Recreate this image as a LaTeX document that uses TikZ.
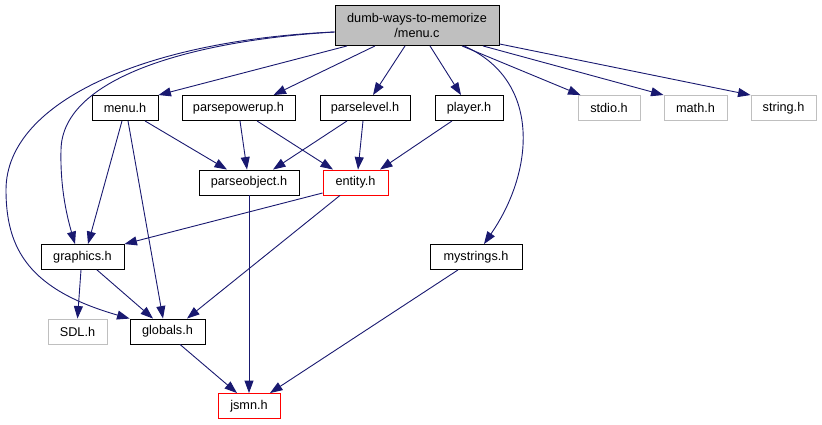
\documentclass[tikz,border=0pt]{standalone}
\usepackage{fontspec}
\setmainfont{Liberation Sans}
\usepackage{tikz}
\usetikzlibrary{arrows.meta, positioning}
\definecolor{edgeblue}{HTML}{191970}
\definecolor{boxgray}{HTML}{BFBFBF}
\colorlet{boxred}{red}

\begin{document}
\begin{tikzpicture}[x=1pt, y=-1pt, >={Triangle[length=12.5pt, width=9pt]},
    file/.style={draw=black, line width=0.9pt, fill=white, inner sep=0pt,
      minimum height=25pt, font=\fontsize{12.7}{15}\selectfont},
    sysfile/.style={file, draw=boxgray},
    badfile/.style={file, draw=boxred},
    dep/.style={->, draw=edgeblue, line width=0.9pt}]
    \useasboundingbox (0,0) rectangle (822,425);

    \node[file, fill=boxgray, align=center, minimum width=164pt, minimum height=40pt] (root) at (417,25.5) {dumb-ways-to-memorize\\/menu.c};
    \node[file, minimum width=66pt] (menu) at (125,108) {menu.h};
    \node[file, minimum width=113pt] (ppu) at (238.5,108) {parsepowerup.h};
    \node[file, minimum width=90pt] (plevel) at (365,108) {parselevel.h};
    \node[file, minimum width=68pt] (player) at (469,108) {player.h};
    \node[sysfile, minimum width=62pt] (stdio) at (609,108) {stdio.h};
    \node[sysfile, minimum width=63pt] (math) at (695.5,108) {math.h};
    \node[sysfile, minimum width=65pt] (string) at (783.5,108) {string.h};
    \node[file, minimum width=100pt] (pobj) at (249,182.5) {parseobject.h};
    \node[badfile, minimum width=65pt] (entity) at (355.5,182.5) {entity.h};
    \node[file, minimum width=83pt] (graphics) at (82.5,257) {graphics.h};
    \node[file, minimum width=92pt] (mystr) at (476,257) {mystrings.h};
    \node[sysfile, minimum width=59pt] (sdl) at (77.5,331.5) {SDL.h};
    \node[file, minimum width=75pt] (globals) at (167.5,331.5) {globals.h};
    \node[badfile, minimum width=62pt] (jsmn) at (249,406) {jsmn.h};

    \draw[dep] ([xshift=-70pt]root.south) -- (menu.north east);
    \draw[dep] ([xshift=-42pt]root.south) -- ([xshift=35pt]ppu.north);
    \draw[dep] ([xshift=-12pt]root.south) -- ([xshift=8pt]plevel.north);
    \draw[dep] ([xshift=13pt]root.south) -- ([xshift=-8pt]player.north);
    \draw[dep] ([xshift=45pt]root.south) -- ([xshift=3pt]stdio.north west);
    \draw[dep] ([xshift=66pt]root.south) -- (math.north west);
    \draw[dep] ([yshift=2pt]root.south east) -- (string.north west);
    \draw[dep] ([xshift=47pt]root.south) .. controls +(77,34) and +(51,-74) .. ([xshift=8pt]mystr.north);
    \draw[dep] ([yshift=-6.5pt]root.west) .. controls (200,40) and (62,75) .. (61,150)
      .. controls (60,190) and (68,220) .. ([xshift=-7.5pt]graphics.north);
    \draw[dep] ([yshift=-6.5pt]root.west) .. controls (150,40) and (6,100) .. (6,190)
      .. controls (6,250) and (30,290) .. (globals.north west);

    \draw[dep] ([xshift=20pt]menu.south) -- ([xshift=-22pt]pobj.north);
    \draw[dep] ([xshift=-3pt]menu.south) -- ([xshift=5.5pt]graphics.north);
    \draw[dep] ([xshift=3pt]menu.south) -- ([xshift=-4.5pt]globals.north);
    \draw[dep] ([xshift=1.5pt]ppu.south) -- ([xshift=-2pt]pobj.north);
    \draw[dep] ([xshift=18.5pt]ppu.south) -- ([xshift=-22.5pt]entity.north);
    \draw[dep] ([xshift=-18pt]plevel.south) -- ([xshift=24pt]pobj.north);
    \draw[dep] ([xshift=-2pt]plevel.south) -- ([xshift=2.5pt]entity.north);
    \draw[dep] ([xshift=-17pt]player.south) -- ([xshift=24.5pt]entity.north);
    \draw[dep] ([yshift=-10.5pt]entity.west) -- (graphics.north east);
    \draw[dep] ([xshift=-15.5pt]entity.south) -- ([xshift=19.5pt]globals.north);
    \draw[dep] ([xshift=-1.5pt]graphics.south) -- (sdl.north);
    \draw[dep] ([xshift=14.5pt]graphics.south) -- ([xshift=-14.5pt]globals.north);
    \draw[dep] (pobj.south) -- (jsmn.north);
    \draw[dep] ([xshift=12.5pt]globals.south) -- ([xshift=-12pt]jsmn.north);
    \draw[dep] ([xshift=-18pt]mystr.south) -- ([xshift=21pt]jsmn.north);
  \end{tikzpicture}
\end{document}
